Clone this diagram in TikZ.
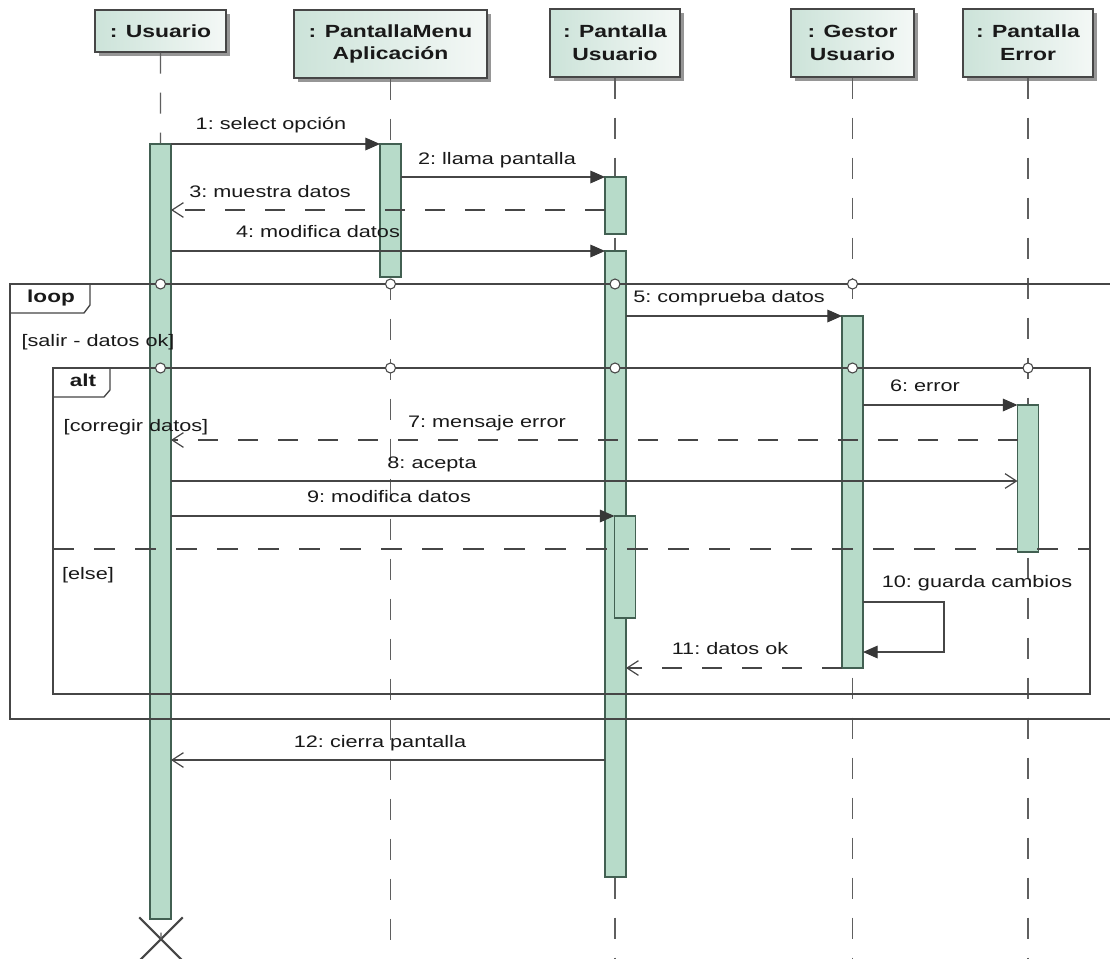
\documentclass[tikz,border=0pt]{standalone}
\usepackage{fontspec}
\setmainfont{Liberation Sans}[FakeStretch=1.3]
\usetikzlibrary{arrows.meta,shadows,shapes.misc}
\definecolor{hdrL}{RGB}{204,227,217}
\definecolor{hdrR}{RGB}{244,248,246}
\definecolor{barfill}{RGB}{183,219,201}
\definecolor{bardraw}{RGB}{66,96,82}
\definecolor{ink}{RGB}{70,70,70}
\definecolor{tip}{RGB}{55,55,55}
\definecolor{life}{RGB}{95,95,95}
\definecolor{shade}{RGB}{150,150,150}
\definecolor{txt}{RGB}{25,25,25}

\begin{document}
\begin{tikzpicture}[x=0.75pt,y=-0.75pt,
  header/.style={draw=ink, line width=1pt, left color=hdrL, right color=hdrR,
    inner sep=0pt, align=center, text=txt,
    font=\fontsize{13.2}{17}\selectfont\bfseries,
    drop shadow={shadow xshift=3pt, shadow yshift=-3pt, fill=shade, opacity=1}},
  lifeline/.style={draw=life, line width=1pt, dash pattern=on 15.75pt off 14.25pt},
  actbar/.style={draw=bardraw, fill=barfill, line width=0.9pt, minimum width=15.75pt,
    inner sep=0pt, outer sep=0pt, anchor=north},
  frame/.style={draw=ink, line width=1pt, inner sep=0pt, outer sep=0pt, anchor=north west},
  msg/.style={draw=ink, line width=0.9pt},
  sync/.style={msg, -{Triangle[length=11pt,width=9.5pt,color=tip]}},
  reply/.style={msg, dash pattern=on 15pt off 15pt, -{Straight Barb[length=8.5pt,width=11pt]}},
  async/.style={msg, -{Straight Barb[length=8.5pt,width=11pt]}},
  lbl/.style={font=\fontsize{12.5}{14}\selectfont, text=txt, inner sep=0pt,
    text height=9pt, text depth=2.5pt},
  tag/.style={font=\fontsize{13}{15}\selectfont\bfseries, text=txt, inner sep=0pt,
    text height=9.5pt, text depth=2.5pt},
  gate/.style={circle, draw=ink, fill=white, line width=0.8pt, minimum size=7.5pt, inner sep=0pt},
  destroy/.style={cross out, draw=ink, line width=1.6pt, minimum size=31pt, inner sep=0pt}
]
\useasboundingbox (0,0) rectangle (1110,958);
\fill[white] (0,0) rectangle (1110,958);

% participants
\node[header, minimum width=131*0.75pt, minimum height=42*0.75pt] (hU) at (160.5,31) {: Usuario};
\node[header, minimum width=193*0.75pt, minimum height=68*0.75pt] (hM) at (390.5,44) {: PantallaMenu\\Aplicación};
\node[header, minimum width=130*0.75pt, minimum height=68*0.75pt] (hP) at (615,43) {: Pantalla\\Usuario};
\node[header, minimum width=123*0.75pt, minimum height=68*0.75pt] (hG) at (852.5,43) {: Gestor\\Usuario};
\node[header, minimum width=130*0.75pt, minimum height=68*0.75pt] (hE) at (1028,43) {: Pantalla\\Error};

% destruction of the user lifeline
\node[destroy] (xU) at (161,939) {};

% lifelines
\draw[lifeline] (hU.south) -- (xU.center);
\draw[lifeline] (hM.south) -- (hM.south |- 0,958);
\draw[lifeline] (hP.south) -- (hP.south |- 0,958);
\draw[lifeline] (hG.south) -- (hG.south |- 0,958);
\draw[lifeline] (hE.south) -- (hE.south |- 0,958);

% activation bars
\node[actbar, minimum height=775*0.75pt] (bU)  at (160.5,144) {};
\node[actbar, minimum height=133*0.75pt] (bM)  at (390.5,144) {};
\node[actbar, minimum height=57*0.75pt]  (bP1) at (615.5,177) {};
\node[actbar, minimum height=626*0.75pt] (bP2) at (615.5,251) {};
\node[actbar, minimum height=102*0.75pt] (bP3) at (625,516) {};
\node[actbar, minimum height=352*0.75pt] (bG)  at (852.5,316) {};
\node[actbar, minimum height=147*0.75pt] (bE)  at (1028,405) {};

% combined fragments
\node[frame, minimum width=1105*0.75pt, minimum height=435*0.75pt] (loopF) at (10,284) {};
\node[frame, minimum width=1037*0.75pt, minimum height=326*0.75pt] (altF) at (53,368) {};
\draw[ink, line width=1pt] (loopF.north west) -- ++(80,0) -- ++(0,21) -- ++(-6,8) -- (loopF.north west |- 0,313);
\draw[ink, line width=1pt] (altF.north west) -- ++(57,0) -- ++(0,22) -- ++(-6,7) -- (altF.north west |- 0,397);
\draw[ink, line width=1pt, dash pattern=on 15.75pt off 15pt] (altF.west |- 0,549) -- (altF.east |- 0,549);
\node[tag] (tLoop) at (51,298) {loop};
\node[tag] (tAlt) at (83,382) {alt};
\node[lbl] (gLoop) at (98,342) {[salir - datos ok]};
\node[lbl] (gAlt) at (136,427) {[corregir datos]};
\node[lbl] (gElse) at (88,575) {[else]};

% gates on fragment borders
\foreach \h in {hU,hM,hP,hG} \node[gate] at (\h |- loopF.north) {};
\foreach \h in {hU,hM,hP,hG,hE} \node[gate] at (\h |- altF.north) {};

% messages
\draw[sync]  (bU.east |- 0,144) -- (bM.west |- 0,144);
\draw[sync]  (bM.east |- 0,177) -- (bP1.west |- 0,177);
\draw[reply] (bP1.west |- 0,210) -- (bU.east |- 0,210);
\draw[sync]  (bU.east |- 0,251) -- (bP2.west |- 0,251);
\draw[sync]  (bP2.east |- 0,316) -- (bG.west |- 0,316);
\draw[sync]  (bG.east |- 0,405) -- (bE.west |- 0,405);
\draw[reply] (bE.west |- 0,440) -- (bU.east |- 0,440);
\draw[async] (bU.east |- 0,481) -- (bE.west |- 0,481);
\draw[sync]  (bU.east |- 0,516) -- (bP3.west |- 0,516);
\draw[sync]  (bG.east |- 0,602) -- ++(81,0) |- (bG.east |- 0,652);
\draw[reply] (bG.west |- 0,668) -- (bP2.east |- 0,668);
\draw[async] (bP2.west |- 0,760) -- (bU.east |- 0,760);

% message labels
\node[lbl] (m1)  at (271,125) {1:\ select opción};
\node[lbl] (m2)  at (497,160) {2:\ llama pantalla};
\node[lbl] (m3)  at (270,193) {3:\ muestra datos};
\node[lbl] (m4)  at (318,233) {4:\ modifica datos};
\node[lbl] (m5)  at (729,298) {5:\ comprueba datos};
\node[lbl] (m6)  at (925,387) {6:\ error};
\node[lbl] (m7)  at (487,423) {7:\ mensaje error};
\node[lbl] (m8)  at (432,464) {8:\ acepta};
\node[lbl] (m9)  at (389,498) {9:\ modifica datos};
\node[lbl] (m10) at (977,583) {10:\ guarda cambios};
\node[lbl] (m11) at (730,650) {11:\ datos ok};
\node[lbl] (m12) at (380,743) {12:\ cierra pantalla};
\end{tikzpicture}
\end{document}
